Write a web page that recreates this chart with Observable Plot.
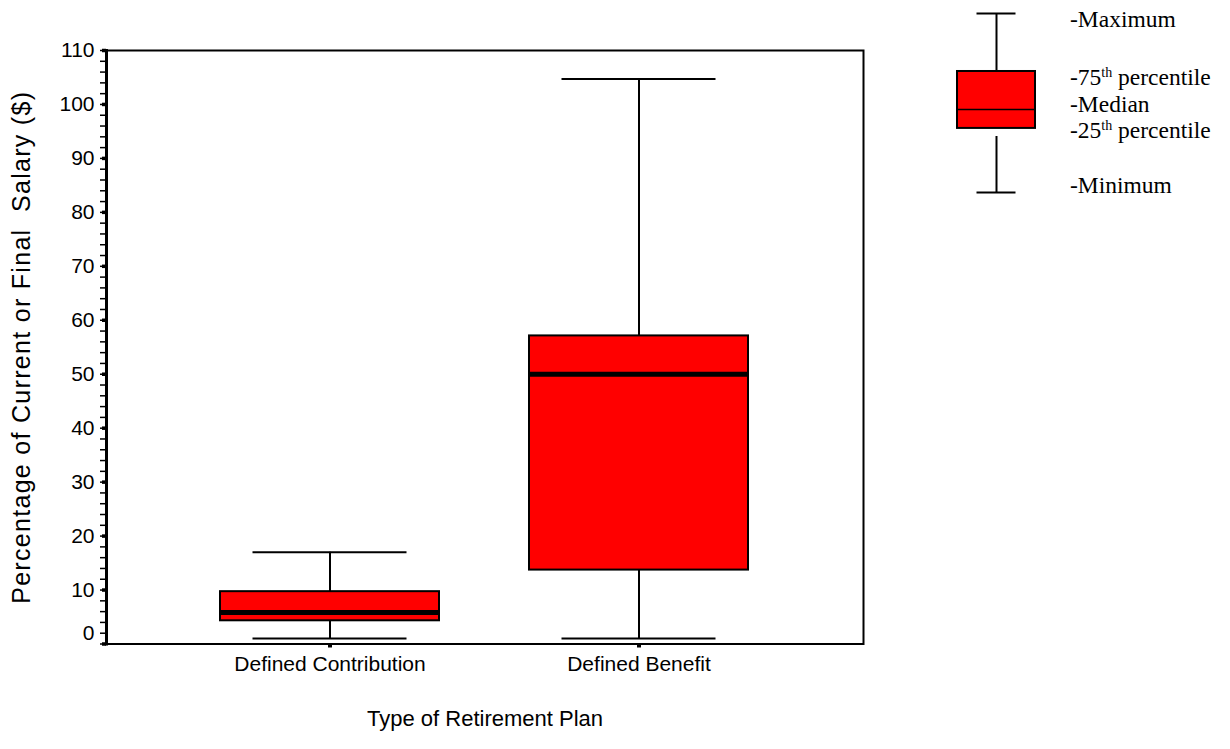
<!DOCTYPE html>
<html><head><meta charset="utf-8">
<script src="https://cdn.jsdelivr.net/npm/d3@7"></script>
<script src="https://cdn.jsdelivr.net/npm/@observablehq/plot@0.6"></script>
<style>
body{margin:0;background:#fff;width:1230px;height:749px;overflow:hidden;position:relative;font-family:"Liberation Sans",Arial,sans-serif;}
#chart{position:absolute;left:0;top:0;}
#legend{position:absolute;left:947px;top:0;}
svg text{white-space:pre;}
.ytitle text{letter-spacing:1.3px;}
.lg{position:absolute;left:1070px;font-family:"Liberation Serif","Times New Roman",serif;font-size:23.5px;line-height:22px;white-space:nowrap;color:#000;}
.lg sup{font-size:14px;line-height:14px;vertical-align:baseline;position:relative;top:-8px;}
</style></head><body>
<div id="chart"></div>
<div id="legend"></div>
<div class="lg" style="top:8px">-Maximum</div>
<div class="lg" style="top:66px">-75<sup>th</sup> percentile</div>
<div class="lg" style="top:93px">-Median</div>
<div class="lg" style="top:119px">-25<sup>th</sup> percentile</div>
<div class="lg" style="top:174px">-Minimum</div>
<script>
// Data
const plans = ["Defined Contribution", "Defined Benefit"];
const minimum = [1, 1];
const q1 = [4.3, 13.7];
const median = [5.85, 50];
const q3 = [9.7, 57.1];
const maximum = [17, 104.7];

const majorTicks = [0, 10, 20, 30, 40, 50, 60, 70, 80, 90, 100, 110];
const minorTicks = [0,2,4,6,8,10,12,14,16,18,20,22,24,26,28,30,32,34,36,38,40,42,44,46,48,50,52,54,56,58,60,62,64,66,68,70,72,74,76,78,80,82,84,86,88,90,92,94,96,98,100,102,104,106,108,110];

const xTitle = "Type of Retirement Plan";
const yTitle = "Percentage of Current or Final  Salary ($)";

// Legend key (schematic sample box)
const legendKey = ["key"];
const legendMax = [100];
const legendQ3 = [67.6];
const legendMedian = [46.4];
const legendQ1 = [35.8];
const legendLowWhiskerTop = [31.3];
const legendMin = [0];

const rows = plans.map((p, i) => ({plan: p, min: minimum[i], q1: q1[i], median: median[i], q3: q3[i], max: maximum[i]}));

const chart = Plot.plot({
  width: 880, height: 749,
  marginLeft: 106, marginRight: 17, marginTop: 50, marginBottom: 105.5,
  style: {fontFamily: "Liberation Sans, Arial, sans-serif", fontSize: "21px", color: "#000", background: "transparent"},
  x: {type: "band", domain: plans, paddingInner: 0.29, paddingOuter: 0.366, label: null},
  y: {domain: [0, 110], label: null},
  marks: [
    Plot.ruleX(rows, {x: "plan", y1: "min", y2: "max", stroke: "#000", strokeWidth: 2}),
    Plot.tickY(rows, {x: "plan", y: "max", inset: 32.5, stroke: "#000", strokeWidth: 2}),
    Plot.tickY(rows, {x: "plan", y: "min", inset: 32.5, stroke: "#000", strokeWidth: 2}),
    Plot.barY(rows, {x: "plan", y1: "q1", y2: "q3", fill: "#ff0000", stroke: "#000", strokeWidth: 2}),
    Plot.tickY(rows, {x: "plan", y: "median", stroke: "#000", strokeWidth: 5}),
    Plot.frame({stroke: "#000", strokeWidth: 2}),
    Plot.frame({anchor: "left", stroke: "#000", strokeWidth: 3}),
    Plot.axisY(minorTicks, {tickSize: 6, strokeWidth: 1.5, tickFormat: () => ""}),
    Plot.axisY(majorTicks, {tickSize: 4, strokeWidth: 3.5, tickPadding: 8, fontSize: 21, tickFormat: d => d === 0 ? "" : String(d)}),
    Plot.axisY([0], {tickSize: 0, tickPadding: 12, dy: -11, fontSize: 21}),
    Plot.axisX({tickSize: 4, strokeWidth: 4, tickPadding: 8, fontSize: 21}),
    Plot.text([xTitle], {text: d => d, frameAnchor: "bottom", dy: 82, fontSize: 22}),
    Plot.text([yTitle], {text: d => d, frameAnchor: "left", textAnchor: "middle", rotate: -90, dx: -85, fontSize: 25, className: "ytitle"})
  ]
});
document.getElementById("chart").appendChild(chart);

const legend = Plot.plot({
  width: 100, height: 205,
  marginLeft: 10, marginRight: 12, marginTop: 13, marginBottom: 13,
  style: {background: "transparent"},
  x: {type: "band", domain: legendKey, padding: 0, axis: null},
  y: {domain: [0, 100], axis: null},
  marks: [
    Plot.ruleX(legendKey, {x: d => d, y1: legendQ3, y2: legendMax, stroke: "#000", strokeWidth: 2}),
    Plot.ruleX(legendKey, {x: d => d, y1: legendMin, y2: legendLowWhiskerTop, stroke: "#000", strokeWidth: 2}),
    Plot.tickY(legendKey, {x: d => d, y: legendMax, inset: 19.5, stroke: "#000", strokeWidth: 2}),
    Plot.tickY(legendKey, {x: d => d, y: legendMin, inset: 19.5, stroke: "#000", strokeWidth: 2}),
    Plot.barY(legendKey, {x: d => d, y1: legendQ1, y2: legendQ3, fill: "#ff0000", stroke: "#000", strokeWidth: 2}),
    Plot.tickY(legendKey, {x: d => d, y: legendMedian, stroke: "#000", strokeWidth: 1.5})
  ]
});
document.getElementById("legend").appendChild(legend);
</script>
</body></html>
